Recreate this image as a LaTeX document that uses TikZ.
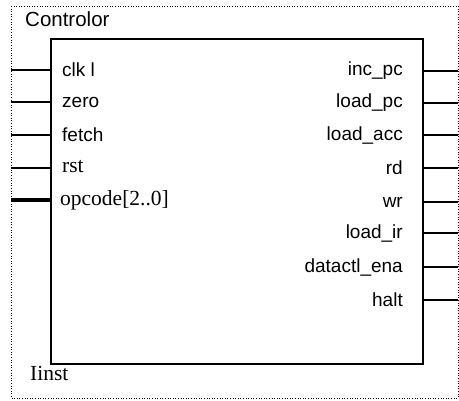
\documentclass[tikz,border=0pt]{standalone}
\usepackage{fontspec}
\setmainfont{Liberation Sans}
\newfontfamily\serifface{Liberation Serif}
\begin{document}
\begin{tikzpicture}[x=1pt,y=-1pt,
  frame/.style={line width=1pt, dash pattern=on 1pt off 1.6pt},
  block/.style={draw, line width=2.2pt, inner sep=0pt, minimum width=372pt, minimum height=325pt, anchor=north west},
  pinline/.style={line width=1.6pt},
  busline/.style={line width=4pt},
  lbl/.style={font=\fontsize{19}{20}\selectfont, inner sep=0pt},
  tlbl/.style={font=\fontsize{20.5}{22}\selectfont, inner sep=0pt},
  slbl/.style={font=\serifface\fontsize{21.5}{22}\selectfont, inner sep=0pt}]
\useasboundingbox (0,0) rectangle (459,400);
\draw[frame] (11,6) rectangle (458,398);
\node[block] (ctl) at (50,38) {};
\node[tlbl, anchor=west] (title) at (25,19) {Controlor};
\node[slbl, anchor=west] (inst) at (30,373) {Iinst};
% left pins
\foreach \n/\y/\t in {clk/70/clk l, zero/102/zero, fetch/135/fetch}{
  \coordinate (\n in) at (11,\y);
  \draw[pinline] (\n in) -- (\n in -| ctl.west);
  \node[lbl, anchor=west] (\n) at (62,\y) {\t};
}
\coordinate (rstin) at (11,168);
\draw[pinline] (rstin) -- (rstin -| ctl.west);
\node[slbl, anchor=west] (rst) at (62,167) {rst};
\coordinate (opin) at (11,200);
\draw[busline] (opin) -- (opin -| ctl.west);
\node[slbl, anchor=west] (opcode) at (60,200) {opcode[2..0]};
% right pins
\foreach \n/\y/\t in {inc/71/inc\_pc, lpc/103/load\_pc, lacc/135/load\_acc, rd/168/rd, wr/202/wr, lir/233/load\_ir, dena/267/datactl\_ena, halt/300/halt}{
  \coordinate (\n out) at (458,\y);
  \draw[pinline] (\n out -| ctl.east) -- (\n out);
  \node[lbl, anchor=east] (\n) at (403,\y) {\t};
}
\end{tikzpicture}
\end{document}
